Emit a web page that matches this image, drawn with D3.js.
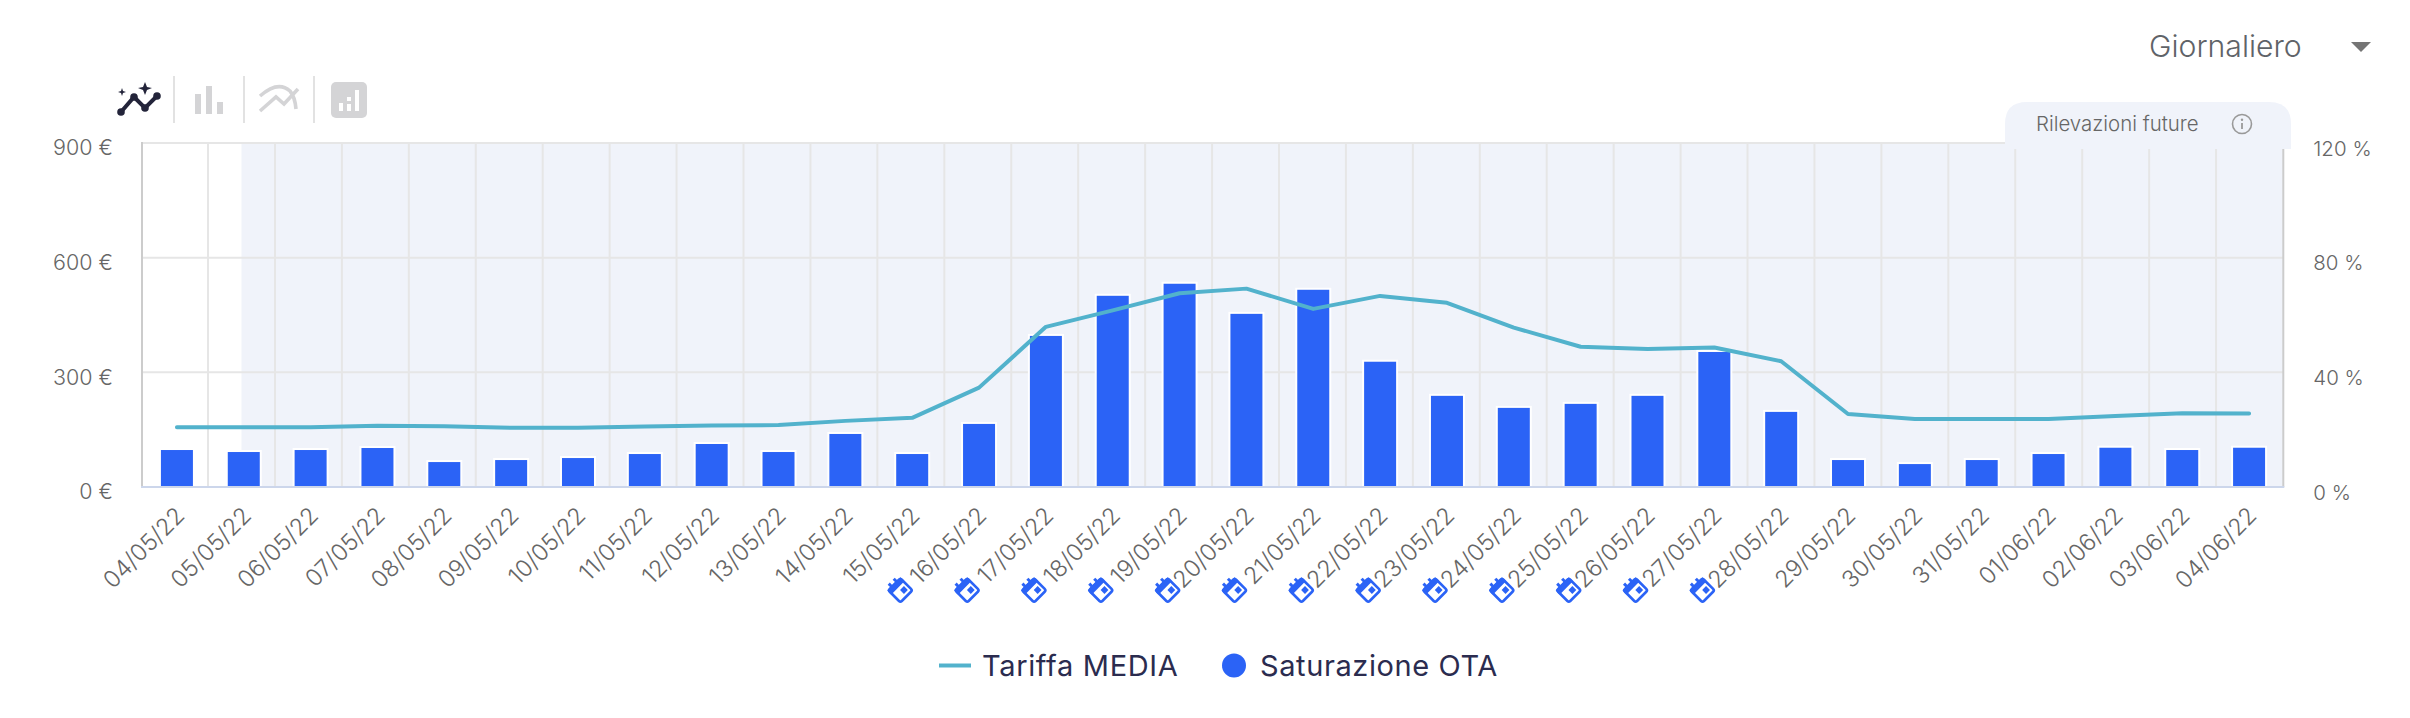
<!DOCTYPE html>
<html><head><meta charset="utf-8">
<script src="https://cdn.jsdelivr.net/npm/d3@7/dist/d3.min.js"></script>
<style>html,body{margin:0;padding:0;background:#fff}svg{display:block}text{font-family:Inter,"Noto Sans",sans-serif}</style>
</head><body><svg id="c" width="2410" height="718"></svg>
<script>
const dates=["04/05/22","05/05/22","06/05/22","07/05/22","08/05/22","09/05/22","10/05/22","11/05/22","12/05/22","13/05/22","14/05/22","15/05/22","16/05/22","17/05/22","18/05/22","19/05/22","20/05/22","21/05/22","22/05/22","23/05/22","24/05/22","25/05/22","26/05/22","27/05/22","28/05/22","29/05/22","30/05/22","31/05/22","01/06/22","02/06/22","03/06/22","04/06/22"];
const saturazione=[12.9,12.2,12.9,13.6,8.7,9.4,10.1,11.5,15,12.2,18.5,11.5,22,52.7,66.7,70.9,60.4,68.8,43.7,31.8,27.6,29,31.8,47.1,26.2,9.4,8,9.4,11.5,13.7,12.9,13.7];
const tariffa=[156,156,156,160,159,155,155,158,161,162,173,181,260,419,462,507,519,466,500,482,417,367,361,365,329,191,178,178,178,186,193,192];
const eventDates=["16/05/22","17/05/22","18/05/22","19/05/22","20/05/22","21/05/22","22/05/22","23/05/22","24/05/22","25/05/22","26/05/22","27/05/22","28/05/22"];
const firstFuture="05/05/22";
const euroTicks=[0,300,600,900];
const pctTicks=[0,40,80,120];

const svg=d3.select("#c");
const L=142,R=2283.3,T=143,B=487;
const x=d3.scaleBand().domain(dates).range([143.5,2282.5]);
const xGrid=d3.scaleBand().domain(dates).range([141.1,2283]);
const yE=d3.scaleLinear().domain([0,900]).range([B,T]);
const yP=d3.scaleLinear().domain([0,120]).range([B,T]);
const cx=d=>x(d)+x.bandwidth()/2;
const GRID="#e6e6e6",TXT="#666",BLUE="#2b63f6",TEAL="#52b2cc",BAND="#f0f3fa";

// future band
const bandX=xGrid(firstFuture)+xGrid.bandwidth()/2;
svg.append("rect").attr("x",bandX).attr("y",T).attr("width",R-bandX).attr("height",B-T).attr("fill",BAND);
// grid
svg.append("g").selectAll("line").data(dates.slice(1)).join("line")
  .attr("x1",d=>xGrid(d)).attr("x2",d=>xGrid(d)).attr("y1",T).attr("y2",B).attr("stroke",GRID).attr("stroke-width",2);
svg.append("g").selectAll("line").data(euroTicks.slice(1)).join("line")
  .attr("x1",L).attr("x2",R).attr("y1",d=>yE(d)).attr("y2",d=>yE(d)).attr("stroke",GRID).attr("stroke-width",2);
// bars
const bw=34;
svg.append("g").selectAll("rect").data(dates).join("rect")
  .attr("x",d=>cx(d)-bw/2).attr("width",bw)
  .attr("y",(d,i)=>yP(saturazione[i])-1).attr("height",(d,i)=>B-yP(saturazione[i])+1)
  .attr("fill",BLUE).attr("stroke","#fff").attr("stroke-width",2);
// axis lines
svg.append("line").attr("x1",L).attr("x2",L).attr("y1",T-1).attr("y2",B).attr("stroke","#ccc").attr("stroke-width",2);
svg.append("line").attr("x1",R).attr("x2",R).attr("y1",T-1).attr("y2",B).attr("stroke","#ccc").attr("stroke-width",2);
svg.append("line").attr("x1",L-1).attr("x2",R+1).attr("y1",B).attr("y2",B).attr("stroke","#ccd6eb").attr("stroke-width",2);
// line
svg.append("path").datum(tariffa)
  .attr("d",d3.line().x((d,i)=>cx(dates[i])).y(d=>yE(d)))
  .attr("fill","none").attr("stroke",TEAL).attr("stroke-width",4).attr("stroke-linejoin","round").attr("stroke-linecap","round");

// axes
const axL=svg.append("g").attr("transform",`translate(${L},0)`).call(d3.axisLeft(yE).tickValues(euroTicks).tickSize(0).tickFormat(d=>d+" €"));
axL.select(".domain").remove();
axL.selectAll("text").attr("x",-29).attr("dy",6).attr("dominant-baseline","middle").attr("font-size",21.5).attr("font-weight",300).attr("fill",TXT).style("font-family","Inter").attr("text-anchor","end");
const axR=svg.append("g").attr("transform",`translate(${R},0)`).call(d3.axisRight(yP).tickValues(pctTicks).tickSize(0).tickFormat(d=>d+" %"));
axR.select(".domain").remove();
axR.selectAll("text").attr("x",30).attr("dy",6.5).attr("dominant-baseline","middle").attr("font-size",20.5).attr("font-weight",300).attr("fill",TXT).style("font-family","Inter").attr("text-anchor","start");
const axB=svg.append("g").attr("transform",`translate(0,${B})`).call(d3.axisBottom(x).tickSize(0));
axB.select(".domain").remove();
axB.selectAll("text").attr("y",0).attr("dy",0).attr("font-size",23.5).attr("font-weight",300).attr("fill",TXT).style("font-family","Inter")
  .attr("text-anchor","end").attr("transform","translate(9,30) rotate(-45)");

// calendar icons
const cal=svg.append("g").selectAll("g").data(eventDates).join("g")
  .attr("transform",d=>`translate(${cx(d)-79},590) rotate(-45)`);
cal.append("rect").attr("x",-8.5).attr("y",-8).attr("width",17).attr("height",17).attr("rx",2).attr("fill","#fff").attr("stroke",BLUE).attr("stroke-width",2.6);
cal.append("rect").attr("x",-9.5).attr("y",-9).attr("width",19).attr("height",6).attr("rx",1).attr("fill",BLUE);
cal.append("rect").attr("x",-5).attr("y",-12.5).attr("width",3).attr("height",4).attr("fill",BLUE);
cal.append("rect").attr("x",2).attr("y",-12.5).attr("width",3).attr("height",4).attr("fill",BLUE);
cal.append("rect").attr("x",0).attr("y",0).attr("width",5.5).attr("height",5.5).attr("fill",BLUE);

// tab
svg.append("path").attr("d","M2005 149V124Q2005 102 2027 102H2269Q2291 102 2291 124V149Z").attr("fill",BAND);
svg.append("text").attr("x",2036).attr("y",131).attr("font-size",20.4).attr("font-weight",300).attr("fill",TXT).text("Rilevazioni future");
const info=svg.append("g").attr("transform","translate(2242,124)");
info.append("circle").attr("r",9.5).attr("fill","none").attr("stroke","#999").attr("stroke-width",1.6);
info.append("circle").attr("cy",-4.2).attr("r",1.2).attr("fill","#999");
info.append("line").attr("y1",-1).attr("y2",5).attr("stroke","#999").attr("stroke-width",1.8);

// dropdown
svg.append("text").attr("x",2149).attr("y",57).attr("font-size",30.2).attr("font-weight",300).attr("fill","#5f6368").text("Giornaliero");
svg.append("path").attr("d","M2351 42H2371L2361 52Z").attr("fill","#757575");

// toolbar icons
const sep=svg.append("g").attr("stroke","#e2e2e2").attr("stroke-width",2);
[174,244,314].forEach(v=>sep.append("line").attr("x1",v).attr("x2",v).attr("y1",76).attr("y2",123));
const dark="#23243a",grey="#d4d4d6";
svg.append("path").attr("d","M121 112L134 97L145 108L157 96").attr("fill","none").attr("stroke",dark).attr("stroke-width",4);
[[121,112],[134,97],[145,108],[157,96]].forEach(p=>svg.append("circle").attr("cx",p[0]).attr("cy",p[1]).attr("r",3.8).attr("fill",dark));
svg.append("path").attr("d","M145 82L147 87L152 88L147 90L145 95L143 90L138 88L143 87Z").attr("fill",dark);
svg.append("path").attr("d","M122 88L123 91L126 92L123 93L122 96L121 93L118 92L121 91Z").attr("fill",dark);
const gi=svg.append("g").attr("fill",grey);
gi.append("rect").attr("x",195).attr("y",94).attr("width",6).attr("height",20);
gi.append("rect").attr("x",206).attr("y",86).attr("width",6).attr("height",28);
gi.append("rect").attr("x",217).attr("y",102).attr("width",6).attr("height",12);
svg.append("path").attr("d","M260 111L276 97L284 104L298 89").attr("fill","none").attr("stroke",grey).attr("stroke-width",3.6);
svg.append("path").attr("d","M260 96Q278 80 290 91Q295 97 296 109").attr("fill","none").attr("stroke",grey).attr("stroke-width",3.6);
svg.append("rect").attr("x",331).attr("y",82).attr("width",36).attr("height",36).attr("rx",5).attr("fill",grey);
const wi=svg.append("g").attr("fill","#fff");
wi.append("rect").attr("x",339).attr("y",103).attr("width",4).attr("height",8);
wi.append("rect").attr("x",347).attr("y",97).attr("width",4).attr("height",4);
wi.append("rect").attr("x",347).attr("y",104).attr("width",4).attr("height",7);
wi.append("rect").attr("x",355).attr("y",90).attr("width",4).attr("height",21);

// legend
svg.append("line").attr("x1",939).attr("x2",971).attr("y1",665.5).attr("y2",665.5).attr("stroke",TEAL).attr("stroke-width",4);
svg.append("text").attr("x",982).attr("y",676).attr("font-size",29).attr("letter-spacing",0.65).attr("fill","#2b2c4f").text("Tariffa MEDIA");
svg.append("ellipse").attr("cx",1234).attr("cy",665.5).attr("rx",12).attr("ry",12).attr("fill",BLUE);
svg.append("text").attr("x",1260).attr("y",676).attr("font-size",29).attr("letter-spacing",0.6).attr("fill","#2b2c4f").text("Saturazione OTA");
</script></body></html>
